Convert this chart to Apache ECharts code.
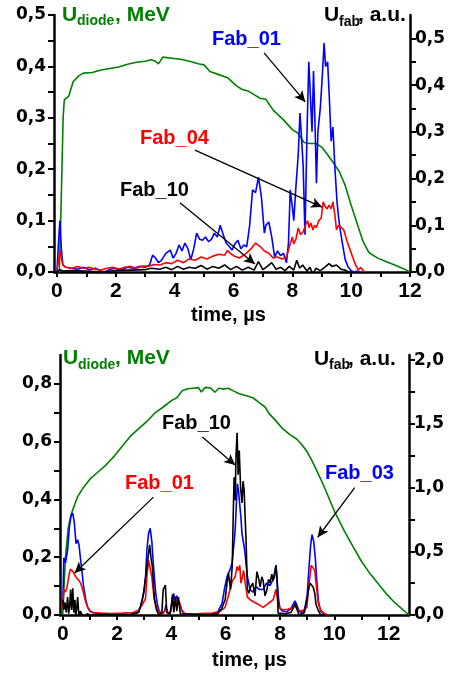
<!DOCTYPE html>
<html>
<head>
<meta charset="utf-8">
<script src="https://cdn.jsdelivr.net/npm/echarts@6/dist/echarts.min.js"></script>
<style>
html,body{margin:0;padding:0;background:#fff}
#chart{width:452px;height:675px}
</style>
</head>
<body>
<div id="chart"></div>
<script>
// ---------- Shot A (upper panel) ----------
const tDiodeA = [0, 0.08, 0.12, 0.17, 0.21, 0.25, 0.3, 0.4, 0.55, 0.75, 0.9, 1.2, 1.5, 1.8, 2.1, 2.4, 2.7, 3.0, 3.2, 3.35, 3.45, 3.6, 3.9, 4.2, 4.5, 4.8, 5.0, 5.2, 5.5, 5.8, 6.1, 6.3, 6.5, 6.7, 6.9, 7.1, 7.35, 7.7, 8.0, 8.2, 8.4, 8.6, 8.8, 9.0, 9.2, 9.4, 9.6, 9.8, 10.0, 10.2, 10.4, 10.6, 10.9, 11.2, 11.5, 11.8, 12.0];
const uDiodeA = [0, 0, 0.08, 0.2, 0.3, 0.335, 0.333, 0.342, 0.37, 0.382, 0.387, 0.388, 0.393, 0.396, 0.399, 0.404, 0.408, 0.41, 0.413, 0.41, 0.405, 0.418, 0.416, 0.414, 0.41, 0.405, 0.403, 0.39, 0.384, 0.378, 0.362, 0.355, 0.352, 0.345, 0.338, 0.336, 0.315, 0.296, 0.277, 0.27, 0.252, 0.25, 0.25, 0.243, 0.228, 0.212, 0.195, 0.168, 0.13, 0.095, 0.06, 0.038, 0.027, 0.02, 0.013, 0.006, 0.0];

const tFab01A = [0, 0.05, 0.1, 0.15, 0.2, 0.3, 0.5, 0.7, 0.9, 1.1, 1.3, 1.5, 1.6, 1.8, 2.0, 2.2, 2.4, 2.6, 2.8, 3.0, 3.15, 3.25, 3.35, 3.45, 3.55, 3.7, 3.85, 3.95, 4.05, 4.15, 4.25, 4.35, 4.45, 4.55, 4.65, 4.75, 4.85, 4.95, 5.05, 5.15, 5.25, 5.35, 5.45, 5.55, 5.65, 5.75, 5.85, 5.95, 6.05, 6.15, 6.25, 6.35, 6.45, 6.55, 6.65, 6.75, 6.85, 6.95, 7.05, 7.1, 7.2, 7.3, 7.4, 7.5, 7.6, 7.7, 7.8, 7.87, 7.93, 8.0, 8.05, 8.12, 8.2, 8.26, 8.32, 8.37, 8.43, 8.5, 8.56, 8.62, 8.67, 8.72, 8.77, 8.82, 8.87, 8.95, 9.02, 9.08, 9.13, 9.2, 9.26, 9.32, 9.38, 9.45, 9.52, 9.57, 9.63, 9.7, 9.8, 9.9, 10.0, 10.1, 10.2, 10.3];
const vFab01A = [0.0, 0.06, 0.11, 0.05, 0.015, 0.01, 0.008, 0.006, 0.01, 0.005, 0.008, 0.002, -0.002, 0.006, 0.008, 0.005, 0.01, 0.008, 0.012, 0.01, 0.015, 0.036, 0.03, 0.02, 0.025, 0.04, 0.047, 0.03, 0.04, 0.058, 0.045, 0.062, 0.05, 0.026, 0.05, 0.083, 0.07, 0.068, 0.075, 0.065, 0.07, 0.083, 0.075, 0.1, 0.08, 0.062, 0.055, 0.047, 0.06, 0.068, 0.05, 0.058, 0.054, 0.1, 0.176, 0.17, 0.203, 0.16, 0.083, 0.1, 0.107, 0.075, 0.032, 0.045, 0.035, 0.04, 0.02, 0.062, 0.176, 0.14, 0.11, 0.18, 0.25, 0.34, 0.28, 0.225, 0.08, 0.3, 0.45, 0.37, 0.3, 0.43, 0.32, 0.19, 0.3, 0.35, 0.42, 0.49, 0.44, 0.45, 0.37, 0.28, 0.31, 0.22, 0.15, 0.118, 0.09, 0.062, 0.026, 0.01, 0.003, 0.0, 0.002, 0.0];

const tFab04A = [0, 0.05, 0.1, 0.15, 0.2, 0.3, 0.5, 0.7, 0.9, 1.1, 1.3, 1.5, 1.7, 1.9, 2.1, 2.3, 2.5, 2.7, 2.9, 3.1, 3.3, 3.5, 3.7, 3.9, 4.1, 4.3, 4.5, 4.7, 4.9, 5.1, 5.3, 5.5, 5.7, 5.8, 5.9, 6.0, 6.2, 6.4, 6.6, 6.75, 6.9, 7.05, 7.2, 7.35, 7.5, 7.65, 7.8, 7.9, 8.0, 8.05, 8.12, 8.2, 8.28, 8.36, 8.45, 8.52, 8.57, 8.63, 8.7, 8.76, 8.82, 8.9, 8.98, 9.05, 9.12, 9.18, 9.25, 9.32, 9.38, 9.45, 9.5, 9.57, 9.65, 9.75, 9.85, 9.95, 10.05, 10.15, 10.25, 10.32, 10.38, 10.45];
const vFab04A = [0.005, 0.02, 0.045, 0.03, 0.015, 0.01, 0.008, 0.012, 0.008, 0.01, 0.006, 0.004, 0.008, 0.01, 0.006, 0.01, 0.012, 0.008, 0.013, 0.012, 0.016, 0.015, 0.02, 0.018, 0.025, 0.02, 0.028, 0.025, 0.032, 0.028, 0.034, 0.038, 0.036, 0.046, 0.04, 0.035, 0.03, 0.038, 0.05, 0.062, 0.055, 0.045, 0.04, 0.03, 0.032, 0.028, 0.032, 0.054, 0.075, 0.06, 0.07, 0.094, 0.08, 0.085, 0.1, 0.11, 0.095, 0.105, 0.09, 0.1, 0.095, 0.11, 0.115, 0.15, 0.14, 0.135, 0.143, 0.135, 0.15, 0.12, 0.09, 0.1, 0.096, 0.09, 0.068, 0.05, 0.032, 0.015, 0.004, 0.01, 0.008, 0.0];

const tFab10A = [0, 0.1, 0.2, 0.5, 1.0, 1.5, 2.0, 2.5, 3.0, 3.2, 3.5, 3.7, 3.9, 4.1, 4.3, 4.5, 4.7, 4.9, 5.1, 5.3, 5.5, 5.7, 5.9, 6.1, 6.3, 6.5, 6.7, 6.85, 7.0, 7.15, 7.3, 7.45, 7.6, 7.75, 7.9, 8.05, 8.15, 8.25, 8.35, 8.5, 8.6, 8.7, 8.8, 8.95, 9.1, 9.25, 9.35, 9.5, 9.65, 9.8, 9.9, 10.0];
const vFab10A = [0.0, 0.005, 0.002, 0.003, 0.002, 0.0, 0.003, 0.004, 0.005, 0.008, 0.006, 0.01, 0.005, 0.012, 0.006, 0.01, 0.008, 0.014, 0.006, 0.012, 0.008, 0.015, 0.005, 0.012, 0.004, 0.01, 0.004, 0.022, 0.005, 0.012, 0.02, 0.006, 0.01, 0.003, 0.012, 0.004, 0.025, 0.008, 0.015, 0.002, 0.01, -0.005, 0.008, 0.003, 0.01, 0.018, 0.012, 0.015, 0.006, 0.004, 0.0, 0.0];

// ---------- Shot B (lower panel) ----------
const tDiodeB = [0, 0.05, 0.1, 0.2, 0.3, 0.4, 0.55, 0.75, 1.0, 1.3, 1.6, 1.9, 2.2, 2.5, 2.8, 3.1, 3.4, 3.7, 4.0, 4.2, 4.4, 4.6, 4.8, 5.0, 5.1, 5.25, 5.45, 5.6, 5.75, 5.9, 6.1, 6.3, 6.5, 6.8, 7.0, 7.25, 7.45, 7.6, 7.85, 8.1, 8.35, 8.6, 8.8, 9.0, 9.2, 9.4, 9.6, 9.8, 10.0, 10.2, 10.4, 10.7, 11.0, 11.3, 11.6, 11.9, 12.2, 12.5, 12.75];
const uDiodeB = [0, 0.1, 0.2, 0.3, 0.345, 0.372, 0.41, 0.44, 0.47, 0.495, 0.52, 0.55, 0.585, 0.62, 0.645, 0.67, 0.7, 0.72, 0.742, 0.752, 0.776, 0.783, 0.785, 0.787, 0.772, 0.788, 0.786, 0.771, 0.785, 0.782, 0.785, 0.775, 0.766, 0.758, 0.752, 0.734, 0.72, 0.697, 0.672, 0.645, 0.625, 0.61, 0.59, 0.565, 0.53, 0.49, 0.45, 0.405, 0.36, 0.322, 0.285, 0.235, 0.186, 0.145, 0.11, 0.075, 0.045, 0.02, 0.0];

const tFab03B = [0, 0.04, 0.1, 0.18, 0.25, 0.31, 0.37, 0.43, 0.49, 0.55, 0.6, 0.66, 0.72, 0.77, 0.85, 0.92, 1.0, 1.15, 1.4, 1.6, 1.8, 2.0, 2.2, 2.4, 2.6, 2.75, 2.86, 2.98, 3.05, 3.1, 3.16, 3.22, 3.28, 3.33, 3.38, 3.43, 3.48, 3.55, 3.65, 3.75, 3.8, 3.85, 3.95, 4.02, 4.08, 4.14, 4.2, 4.27, 4.33, 4.4, 4.5, 4.8, 5.1, 5.4, 5.7, 5.87, 5.95, 6.05, 6.15, 6.24, 6.3, 6.35, 6.4, 6.43, 6.47, 6.52, 6.56, 6.6, 6.65, 6.7, 6.75, 6.8, 6.9, 7.0, 7.12, 7.25, 7.38, 7.5, 7.63, 7.75, 7.85, 7.9, 7.95, 8.0, 8.1, 8.25, 8.4, 8.47, 8.55, 8.62, 8.7, 8.8, 8.9, 9.0, 9.07, 9.13, 9.18, 9.24, 9.3, 9.35, 9.42, 9.5, 9.6, 9.7, 9.8];
const vFab03B = [0.05, 0.45, 0.41, 0.51, 0.7, 0.78, 0.8, 0.72, 0.56, 0.59, 0.55, 0.43, 0.32, 0.22, 0.12, 0.06, 0.03, 0.015, 0.005, 0.0, 0.005, -0.005, 0.003, 0.0, 0.005, 0.02, 0.06, 0.17, 0.3, 0.51, 0.64, 0.68, 0.58, 0.42, 0.28, 0.16, 0.09, 0.03, 0.01, 0.03, 0.08, 0.02, 0.01, 0.1, 0.17, 0.12, 0.15, 0.11, 0.12, 0.03, 0.0, 0.005, 0.0, 0.005, 0.02, 0.094, 0.2, 0.3, 0.35, 0.41, 0.55, 0.67, 0.9, 1.03, 0.98, 0.86, 0.77, 0.64, 0.64, 0.51, 0.4, 0.3, 0.2, 0.18, 0.22, 0.2, 0.2, 0.25, 0.23, 0.28, 0.39, 0.38, 0.12, 0.05, 0.03, 0.025, 0.05, 0.065, 0.11, 0.08, 0.03, 0.02, 0.04, 0.15, 0.38, 0.55, 0.63, 0.58, 0.45, 0.28, 0.1, 0.03, 0.01, 0.0, 0.0];

const tFab01B = [0, 0.04, 0.1, 0.16, 0.22, 0.28, 0.33, 0.38, 0.43, 0.48, 0.55, 0.6, 0.66, 0.72, 0.77, 0.85, 0.92, 1.0, 1.1, 1.4, 1.8, 2.2, 2.6, 2.8, 2.93, 3.05, 3.1, 3.16, 3.22, 3.28, 3.33, 3.37, 3.45, 3.55, 3.7, 3.8, 3.87, 3.97, 4.04, 4.1, 4.2, 4.3, 4.38, 4.5, 5.0, 5.5, 5.8, 5.98, 6.1, 6.17, 6.25, 6.35, 6.42, 6.47, 6.52, 6.56, 6.62, 6.66, 6.72, 6.8, 6.9, 7.05, 7.23, 7.38, 7.5, 7.63, 7.75, 7.85, 7.9, 7.95, 8.1, 8.3, 8.47, 8.55, 8.65, 8.8, 8.99, 9.05, 9.1, 9.15, 9.2, 9.28, 9.35, 9.42, 9.5, 9.58, 9.7, 9.8];
const vFab01B = [0.05, 0.2, 0.18, 0.22, 0.3, 0.36, 0.37, 0.34, 0.35, 0.3, 0.29, 0.27, 0.25, 0.21, 0.17, 0.1, 0.06, 0.035, 0.02, 0.015, 0.012, 0.015, 0.02, 0.04, 0.08, 0.13, 0.3, 0.43, 0.42, 0.3, 0.2, 0.12, 0.06, 0.02, 0.015, 0.05, 0.02, 0.02, 0.14, 0.09, 0.12, 0.1, 0.04, 0.01, 0.012, 0.015, 0.03, 0.06, 0.15, 0.21, 0.27, 0.3, 0.38, 0.35, 0.39, 0.25, 0.3, 0.35, 0.25, 0.14, 0.12, 0.1, 0.08, 0.06, 0.08, 0.1, 0.12, 0.2, 0.14, 0.06, 0.04, 0.045, 0.06, 0.07, 0.04, 0.03, 0.06, 0.2, 0.3, 0.39, 0.38, 0.35, 0.2, 0.08, 0.04, 0.02, 0.005, 0.0];

const tFab10B = [0, 0.04, 0.08, 0.13, 0.18, 0.22, 0.26, 0.29, 0.33, 0.37, 0.41, 0.45, 0.48, 0.52, 0.55, 0.6, 0.65, 0.7, 0.75, 0.8, 0.9, 1.0, 1.5, 2.0, 2.5, 2.8, 2.93, 3.0, 3.1, 3.2, 3.25, 3.3, 3.37, 3.45, 3.55, 3.65, 3.7, 3.78, 3.83, 3.95, 4.0, 4.04, 4.09, 4.15, 4.2, 4.26, 4.33, 4.4, 4.8, 5.3, 5.7, 5.85, 5.98, 6.05, 6.1, 6.18, 6.24, 6.28, 6.31, 6.35, 6.38, 6.42, 6.46, 6.5, 6.55, 6.6, 6.64, 6.68, 6.72, 6.75, 6.8, 6.85, 6.92, 7.0, 7.08, 7.15, 7.22, 7.27, 7.33, 7.38, 7.45, 7.52, 7.58, 7.63, 7.7, 7.74, 7.8, 7.85, 7.89, 7.93, 8.0, 8.2, 8.4, 8.5, 8.55, 8.62, 8.7, 8.8, 8.9, 8.99, 9.05, 9.1, 9.17, 9.22, 9.28, 9.33, 9.4, 9.5, 9.7];
const vFab10B = [0.12, 0.04, 0.1, 0.02, 0.14, 0.01, 0.08, 0.2, 0.04, 0.21, 0.02, 0.12, -0.015, 0.06, 0.14, -0.02, 0.03, 0.005, 0.02, -0.01, 0.01, 0.0, 0.005, 0.0, 0.005, 0.02, 0.12, 0.2, 0.38, 0.55, 0.45, 0.38, 0.14, 0.04, 0.0, 0.02, 0.2, 0.235, 0.02, 0.01, 0.06, 0.16, 0.02, 0.14, 0.03, 0.14, 0.01, 0.0, 0.005, 0.0, 0.01, 0.05, 0.12, 0.25, 0.33, 0.2, 0.38, 0.8, 1.08, 0.9, 1.24, 1.43, 1.1, 1.29, 1.0, 0.88, 1.05, 0.98, 0.75, 0.59, 0.2, 0.17, 0.22, 0.25, 0.15, 0.34, 0.28, 0.22, 0.3, 0.27, 0.15, 0.2, 0.28, 0.25, 0.32, 0.27, 0.3, 0.39, 0.3, 0.015, 0.0, 0.01, 0.02, 0.06, 0.09, 0.05, 0.0, 0.01, 0.02, 0.12, 0.2, 0.25, 0.26, 0.22, 0.17, 0.08, 0.04, 0.0, 0.0];

// ---------- tick values ----------
const timeLabelsA = [0, 2, 4, 6, 8, 10, 12];
const timeTicksA = [0, 1, 2, 3, 4, 5, 6, 7, 8, 9, 10, 11, 12];
const timeLabelsB = [0, 2, 4, 6, 8, 10, 12];
const timeTicksB = [0, 1, 2, 3, 4, 5, 6, 7, 8, 9, 10, 11, 12];
const diodeLabelsA = [0, 0.1, 0.2, 0.3, 0.4, 0.5];
const diodeTicksA = [0, 0.05, 0.1, 0.15, 0.2, 0.25, 0.3, 0.35, 0.4, 0.45, 0.5];
const fabLabelsA = [0, 0.1, 0.2, 0.3, 0.4, 0.5];
const fabTicksA = [0, 0.05, 0.1, 0.15, 0.2, 0.25, 0.3, 0.35, 0.4, 0.45, 0.5];
const diodeLabelsB = [0, 0.2, 0.4, 0.6, 0.8];
const diodeTicksB = [0, 0.1, 0.2, 0.3, 0.4, 0.5, 0.6, 0.7, 0.8];
const fabLabelsB = [0, 0.5, 1.0, 1.5, 2.0];
const fabTicksB = [0, 0.25, 0.5, 0.75, 1.0, 1.25, 1.5, 1.75, 2.0];

// annotation arrows: [t0, v0, t1, v1] in (time, U_fab) units
const arrowsA = [[7.04, 0.469, 8.44, 0.364], [4.69, 0.261, 9.01, 0.139], [4.18, 0.148, 6.73, 0.017]];
const arrowsB = [[5.14, 1.396, 6.35, 1.176], [3.34, 0.925, 0.44, 0.33], [10.75, 1.0, 9.39, 0.61]];

// ---------- helpers ----------
const zip = (t, v) => t.map((x, i) => [x, v[i]]);
const comma = v => v.toFixed(1).replace('.', ',');
const AX = '#000';
const SANS = '"Liberation Sans", Arial, sans-serif';
const TICKFONT = '"DejaVu Sans", sans-serif';

function xAxisCfg(grid, min, max, labels, ticks) {
  return {
    type: 'value', gridIndex: grid, min: min, max: max,
    axisLine: { show: true, onZero: false, lineStyle: { color: AX, width: 2.5 } },
    axisTick: { show: true, customValues: ticks, length: 5, lineStyle: { color: AX, width: 2 } },
    axisLabel: { customValues: labels, color: AX, fontFamily: SANS, fontWeight: 'bold', fontSize: 21, margin: 9 },
    splitLine: { show: false }
  };
}
function yAxisCfg(grid, pos, max, labels, ticks, margin) {
  return {
    type: 'value', gridIndex: grid, position: pos, min: 0, max: max,
    axisLine: { show: true, onZero: false, lineStyle: { color: AX, width: 2.5 } },
    axisTick: { show: true, customValues: ticks, length: 6, lineStyle: { color: AX, width: 2 } },
    axisLabel: { customValues: labels, formatter: comma, color: AX, fontFamily: TICKFONT, fontWeight: 'bold', fontSize: 17, margin: margin },
    splitLine: { show: false }
  };
}
function line(name, xi, yi, data, color, z) {
  return {
    name: name, type: 'line', xAxisIndex: xi, yAxisIndex: yi, data: data,
    showSymbol: false, symbol: 'none', z: z, silent: true,
    lineStyle: { color: color, width: 1.6 }, itemStyle: { color: color },
    emphasis: { disabled: true }
  };
}
function arrowLayer(xi, yi, arrows) {
  return {
    type: 'line', xAxisIndex: xi, yAxisIndex: yi, data: [], silent: true, z: 10,
    markLine: {
      silent: true, animation: false, symbol: ['none', 'arrow'], symbolSize: [8, 11],
      label: { show: false }, emphasis: { disabled: true },
      lineStyle: { color: '#000', width: 1.3, type: 'solid' },
      data: arrows.map(a => [{ coord: [a[0], a[1]] }, { coord: [a[2], a[3]] }])
    }
  };
}
function txt(s, x, y, size, color) {
  return { type: 'text', x: x, y: y, silent: true, z: 100,
    style: { text: s, fill: color, font: 'bold ' + size + 'px ' + SANS, textVerticalAlign: 'middle', verticalAlign: 'middle' } };
}

const GREEN = '#008000', BLUE = '#0000ff', RED = '#ff0000', BLACK = '#000000';

const option = {
  animation: false,
  backgroundColor: '#fff',
  grid: [
    { left: 54, top: 15, width: 356, height: 257 },
    { left: 60, top: 355, width: 349, height: 260 }
  ],
  xAxis: [
    xAxisCfg(0, -0.1, 12, timeLabelsA, timeTicksA),
    xAxisCfg(1, -0.1, 12.75, timeLabelsB, timeTicksB)
  ],
  yAxis: [
    yAxisCfg(0, 'left', 0.5, diodeLabelsA, diodeTicksA, 8),
    yAxisCfg(0, 'right', 0.55, fabLabelsA, fabTicksA, 5),
    yAxisCfg(1, 'left', 0.9, diodeLabelsB, diodeTicksB, 8),
    yAxisCfg(1, 'right', 2.04, fabLabelsB, fabTicksB, 5)
  ],
  series: [
    line('U_diode A', 0, 0, zip(tDiodeA, uDiodeA), GREEN, 2),
    line('Fab_01 A', 0, 1, zip(tFab01A, vFab01A), BLUE, 3),
    line('Fab_04 A', 0, 1, zip(tFab04A, vFab04A), RED, 4),
    line('Fab_10 A', 0, 1, zip(tFab10A, vFab10A), BLACK, 5),
    arrowLayer(0, 1, arrowsA),
    line('U_diode B', 1, 2, zip(tDiodeB, uDiodeB), GREEN, 2),
    line('Fab_03 B', 1, 3, zip(tFab03B, vFab03B), BLUE, 3),
    line('Fab_01 B', 1, 3, zip(tFab01B, vFab01B), RED, 4),
    line('Fab_10 B', 1, 3, zip(tFab10B, vFab10B), BLACK, 5),
    arrowLayer(1, 3, arrowsB)
  ],
  graphic: [
    // upper panel axis titles
    txt('U', 62, 15, 21, GREEN), txt('diode', 77, 21, 14, GREEN), txt(', MeV', 115, 15, 21, GREEN),
    txt('U', 324, 15.5, 21, BLACK), txt('fab', 339, 22, 14, BLACK), txt(', a.u.', 358, 15.5, 21, BLACK),
    txt('time, µs', 191, 315, 20, BLACK),
    // upper panel labels
    txt('Fab_01', 212, 39, 20, BLUE), txt('Fab_04', 140, 138, 20, RED), txt('Fab_10', 120, 190, 20, BLACK),
    // lower panel axis titles
    txt('U', 63, 358, 21, GREEN), txt('diode', 78, 365, 14, GREEN), txt(', MeV', 115, 358, 21, GREEN),
    txt('U', 314, 359, 21, BLACK), txt('fab', 329, 365.5, 14, BLACK), txt(', a.u.', 348, 359, 21, BLACK),
    txt('time, µs', 212, 660, 20, BLACK),
    // lower panel labels
    txt('Fab_10', 162, 423, 20, BLACK), txt('Fab_01', 125, 483, 20, RED), txt('Fab_03', 325, 473, 20, BLUE)
  ]
};

const chart = echarts.init(document.getElementById('chart'), null, { renderer: 'canvas' });
chart.setOption(option);
</script>
</body>
</html>
